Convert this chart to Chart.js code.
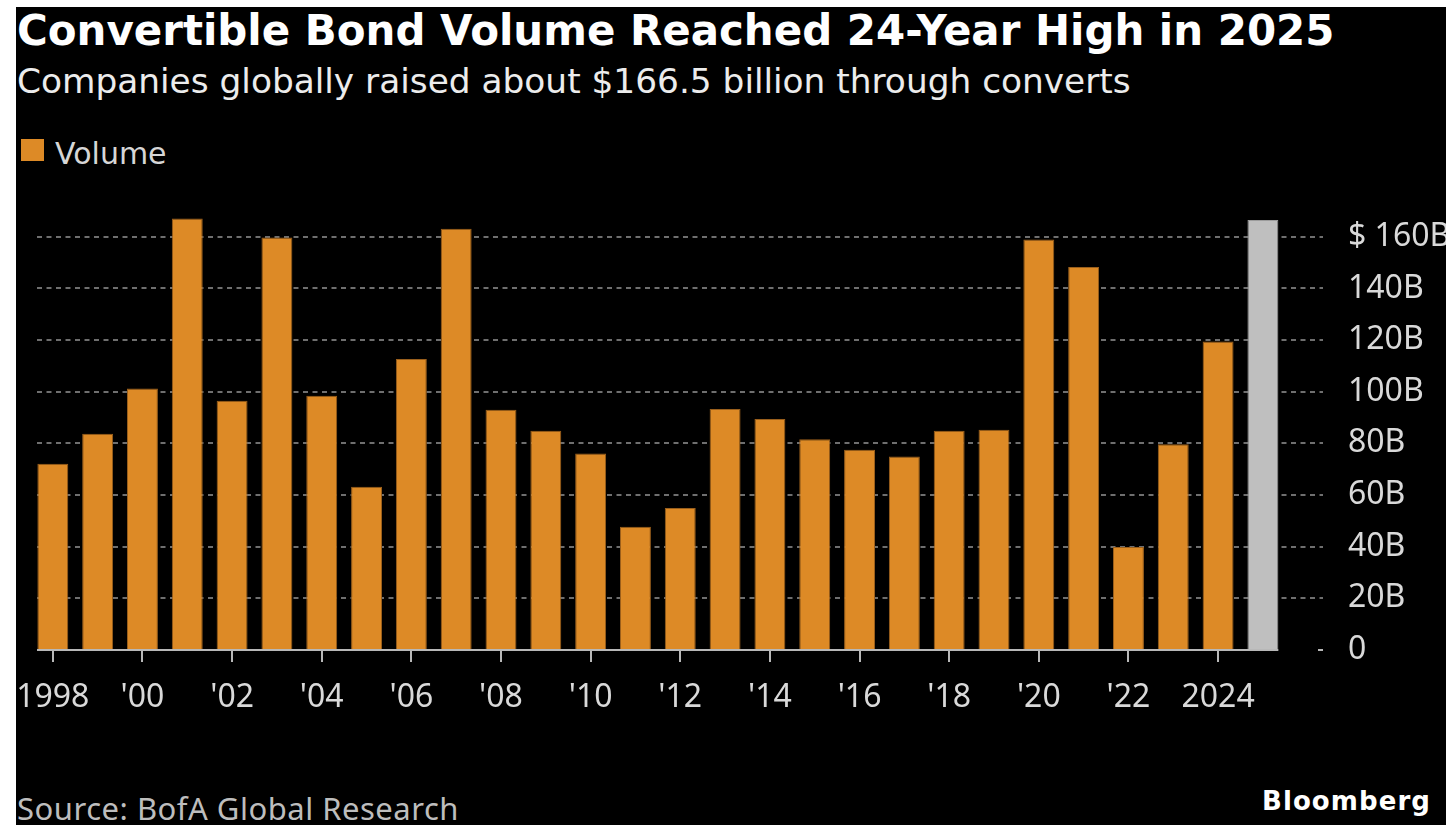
<!DOCTYPE html>
<html>
<head>
<meta charset="utf-8">
<script src="https://cdn.jsdelivr.net/npm/chart.js@4.4.1/dist/chart.umd.min.js"></script>
<style>
  html, body { margin: 0; padding: 0; background: #fff; }
  #frame { position: absolute; left: 16px; top: 7px; width: 1430px; height: 818px; background: #000; overflow: hidden; }
  .txt { position: absolute; white-space: nowrap; line-height: 1; }
  #title { left: 1px; font: bold 30px "DejaVu Sans"; color: #fff; }
  #subtitle { left: 1px; font: 30px "DejaVu Sans"; color: #ececec; }
  #legend { left: 5px; top: 132px; width: 23px; height: 22px; background: #dd8a26; position: absolute; }
  #legendLabel { left: 39px; top: 128.6px; font: 30px "DejaVu Sans"; color: #d6d6d6; }
  #source { left: 1px; top: 780px; font: 31px "Noto Sans"; color: #bdbdbd; }
  #brand { right: 15px; top: 779px; font: bold 26px "DejaVu Sans"; color: #fff; }
  #chartBox { position: absolute; left: 0; top: 173px; width: 1430px; height: 580px; }
</style>
</head>
<body>
<div id="frame">
  <div class="txt" id="title">Convertible Bond Volume Reached 24-Year High in 2025</div>
  <div class="txt" id="subtitle">Companies globally raised about $166.5 billion through converts</div>
  <div id="legend"></div>
  <div class="txt" id="legendLabel">Volume</div>
  <div id="chartBox"><canvas id="volumeChart"></canvas></div>
  <div class="txt" id="source">Source: BofA Global Research</div>
  <div class="txt" id="brand">Bloomberg</div>
</div>
<script>
const years = [1998, 1999, 2000, 2001, 2002, 2003, 2004, 2005, 2006, 2007,
  2008, 2009, 2010, 2011, 2012, 2013, 2014, 2015, 2016, 2017,
  2018, 2019, 2020, 2021, 2022, 2023, 2024, 2025]
const volume = [72.1, 83.7, 101.2, 167.1, 96.5, 159.7, 98.4, 63.2, 112.7, 163.1,
  93.0, 84.9, 76.1, 47.7, 55.0, 93.3, 89.4, 81.6, 77.5, 74.9,
  84.9, 85.3, 158.9, 148.3, 39.9, 79.7, 119.4, 166.5]
const currentYear = 2025
const xTickYears = [1998, 2000, 2002, 2004, 2006, 2008, 2010, 2012, 2014, 2016, 2018, 2020, 2022, 2024]
const xTickLabels = ['1998', "'00", "'02", "'04", "'06", "'08", "'10", "'12", "'14", "'16", "'18", "'20", "'22", '2024']
const yTickValues = [0, 20, 40, 60, 80, 100, 120, 140, 160]
const yTickLabels = ['0', '20B', '40B', '60B', '80B', '100B', '120B', '140B', '$ 160B']

// scale the font so the line is as wide as in the picture, keeping its baseline
function fitSize(id, target, baseline) {
  const el = document.getElementById(id)
  const w = el.getBoundingClientRect().width
  const size = 30 * target / w
  el.style.fontSize = size + 'px'
  el.style.top = (baseline - 0.846 * size) + 'px'
}
function fitSpacing(id, target) {
  const el = document.getElementById(id)
  const w = el.getBoundingClientRect().width
  el.style.letterSpacing = ((target - w) / el.textContent.length) + 'px'
}
fitSize('title', 1318, 34)
fitSize('subtitle', 1114, 83)
fitSpacing('source', 442)
fitSpacing('brand', 169)

const ORANGE = '#dd8a26'
const GREY = '#bfbfbf'

const baseline = {
  id: 'baseline',
  afterDatasetsDraw(chart) {
    const meta = chart.getDatasetMeta(0)
    const last = meta.data[meta.data.length - 1]
    const y0 = chart.scales.y.getPixelForValue(0)
    const ctx = chart.ctx
    ctx.save()
    ctx.strokeStyle = '#b8b8b8'
    ctx.lineWidth = 2
    ctx.beginPath()
    ctx.moveTo(chart.chartArea.left, y0)
    ctx.lineTo(last.x + last.width / 2, y0)
    ctx.moveTo(chart.chartArea.right - 5, y0)
    ctx.lineTo(chart.chartArea.right, y0)
    ctx.stroke()
    ctx.restore()
  }
}

const canvas = document.getElementById('volumeChart')
new Chart(canvas.getContext('2d'), {
  type: 'bar',
  data: {
    datasets: [{
      label: 'Volume',
      data: years.map((yr, i) => ({ x: yr, y: volume[i] })),
      backgroundColor: ctx => years[ctx.dataIndex] === currentYear ? GREY : ORANGE,
      borderColor: ctx => years[ctx.dataIndex] === currentYear ? '#9c9c9c' : '#9a5f1c',
      borderWidth: 1,
      barPercentage: 0.69,
      categoryPercentage: 1
    }]
  },
  options: {
    responsive: true,
    maintainAspectRatio: false,
    animation: false,
    layout: { padding: { left: 21, top: 18, right: 0, bottom: 0 } },
    plugins: {
      legend: { display: false },
      tooltip: { enabled: false }
    },
    scales: {
      x: {
        type: 'linear',
        offset: false,
        min: 1997.647,
        max: 2026.341,
        afterBuildTicks: scale => { scale.ticks = xTickYears.map(v => ({ value: v })) },
        afterFit: scale => {
          scale.height = 110
          scale.paddingLeft = 0
          scale.paddingRight = 0
        },
        grid: { offset: false, drawOnChartArea: false, drawTicks: true, tickLength: 12, color: '#b8b8b8', lineWidth: 2 },
        border: { display: false },
        ticks: {
          autoSkip: false,
          maxRotation: 0,
          padding: 17,
          color: '#d9d9d9',
          font: { family: 'Noto Sans', size: 32 },
          callback: value => xTickLabels[xTickYears.indexOf(value)]
        }
      },
      y: {
        position: 'right',
        min: 0,
        max: 175,
        afterBuildTicks: scale => { scale.ticks = yTickValues.map(v => ({ value: v })) },
        afterFit: scale => {
          scale.width = 123
          scale.paddingTop = 0
          scale.paddingBottom = 0
        },
        grid: {
          drawTicks: false,
          lineWidth: 2,
          color: ctx => ctx.tick && ctx.tick.value === 0 ? 'rgba(0,0,0,0)' : '#6f6f6f'
        },
        border: { display: false, dash: [5, 4.5] },
        ticks: {
          padding: 25,
          color: '#d9d9d9',
          font: { family: 'Noto Sans', size: 32 },
          callback: value => yTickLabels[yTickValues.indexOf(value)]
        }
      }
    }
  },
  plugins: [baseline]
})
</script>
</body>
</html>
